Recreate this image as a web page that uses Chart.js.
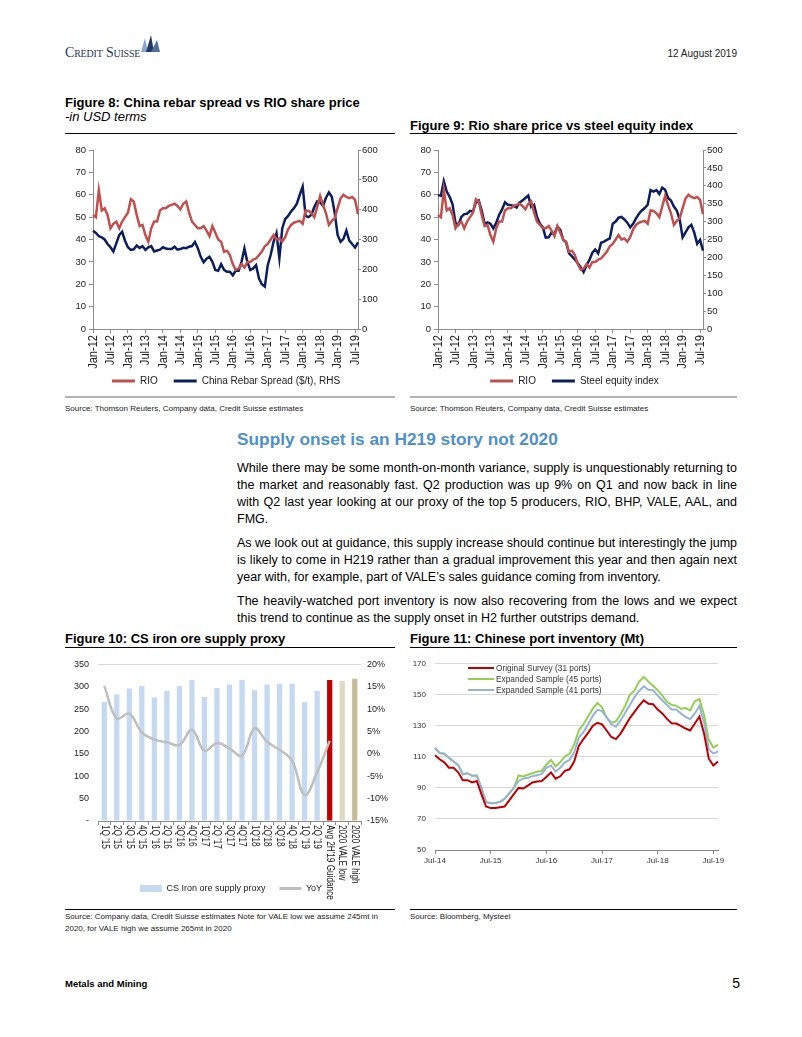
<!DOCTYPE html>
<html>
<head>
<meta charset="utf-8">
<script src="https://cdn.jsdelivr.net/npm/chart.js@4.4.1/dist/chart.umd.min.js"></script>
<style>
html, body { margin: 0; padding: 0; background: #fff; }
body { width: 802px; height: 1037px; position: relative; overflow: hidden; font-family: 'Liberation Sans', Arial, sans-serif; color: #000; }
.t { position: absolute; white-space: nowrap; }
.rule { position: absolute; height: 1px; background: #000; }
.grey { height: 2px; background: #b4b4b4; }
.cv { position: absolute; }
.body { position: absolute; left: 237px; width: 500px; font-size: 12.5px; line-height: 17px; white-space: nowrap; }
.j { text-align: justify; text-align-last: justify; white-space: normal; height: 17px; overflow: hidden; }
.src { font-size: 8px; line-height: 8px; color: #222; }
.ttl { font-size: 13px; line-height: 13px; font-weight: bold; }
.lg { position: absolute; font-size: 8.3px; line-height: 10px; color: #333; white-space: nowrap; }
.lg span { display: inline-block; width: 26px; height: 2px; vertical-align: middle; margin-right: 2px; position: relative; top: -1px; }
</style>
</head>
<body>

<!-- header -->
<div class="t" style="left:65px;top:46px;font-family:'Liberation Serif',serif;font-size:14px;line-height:14px;font-variant:small-caps;color:#1f3864;letter-spacing:-0.2px">Credit Suisse</div>
<svg style="position:absolute;left:138px;top:35px" width="22" height="18" viewBox="0 0 22 18">
  <polygon points="3,17 7,3 10,17" fill="#8aa6c8"/>
  <polygon points="8,17 13,0 16,17" fill="#1f3864"/>
  <polygon points="13,17 19,5 22,17" fill="#4f6f9f"/>
</svg>
<div class="t" style="right:65px;top:49px;font-size:10px;line-height:10px;color:#222">12 August 2019</div>

<!-- figure 8 / 9 titles -->
<div class="t ttl" style="left:65px;top:95.5px">Figure 8: China rebar spread vs RIO share price</div>
<div class="t" style="left:65px;top:110px;font-size:13px;line-height:13px;font-style:italic">-in USD terms</div>
<div class="rule" style="left:65px;top:133px;width:330px"></div>
<div class="t ttl" style="left:410px;top:119px">Figure 9: Rio share price vs steel equity index</div>
<div class="rule" style="left:410px;top:133px;width:327px"></div>

<div class="cv" style="left:62px;top:140px"><canvas id="fig8" width="328" height="256"></canvas></div>
<div class="cv" style="left:411px;top:140px"><canvas id="fig9" width="327" height="256"></canvas></div>

<div class="rule grey" style="left:65px;top:396px;width:330px"></div>
<div class="rule grey" style="left:410px;top:396px;width:327px"></div>
<div class="t src" style="left:65px;top:405px">Source: Thomson Reuters, Company data, Credit Suisse estimates</div>
<div class="t src" style="left:410px;top:405px">Source: Thomson Reuters, Company data, Credit Suisse estimates</div>

<!-- text section -->
<div class="t" style="left:237px;top:431px;font-size:17.3px;line-height:17.3px;font-weight:bold;color:#4f90c6">Supply onset is an H219 story not 2020</div>

<div class="body j" style="top:460px">While there may be some month-on-month variance, supply is unquestionably returning to</div>
<div class="body j" style="top:477px">the market and reasonably fast. Q2 production was up 9% on Q1 and now back in line</div>
<div class="body j" style="top:494px">with Q2 last year looking at our proxy of the top 5 producers, RIO, BHP, VALE, AAL, and</div>
<div class="body" style="top:511px">FMG.</div>

<div class="body j" style="top:535px">As we look out at guidance, this supply increase should continue but interestingly the jump</div>
<div class="body j" style="top:552px">is likely to come in H219 rather than a gradual improvement this year and then again next</div>
<div class="body" style="top:569px">year with, for example, part of VALE’s sales guidance coming from inventory.</div>

<div class="body j" style="top:593px">The heavily-watched port inventory is now also recovering from the lows and we expect</div>
<div class="body" style="top:610px">this trend to continue as the supply onset in H2 further outstrips demand.</div>

<!-- figure 10 / 11 -->
<div class="t ttl" style="left:65px;top:632px">Figure 10: CS iron ore supply proxy</div>
<div class="rule" style="left:65px;top:647px;width:330px"></div>
<div class="t ttl" style="left:410px;top:632px">Figure 11: Chinese port inventory (Mt)</div>
<div class="rule" style="left:410px;top:647px;width:327px"></div>

<div class="cv" style="left:62px;top:650px"><canvas id="fig10" width="338" height="253"></canvas></div>
<div class="cv" style="left:405px;top:650px"><canvas id="fig11" width="330" height="216"></canvas></div>

<div class="lg" style="left:468px;top:663px"><span style="background:#c00000"></span>Original Survey (31 ports)</div>
<div class="lg" style="left:468px;top:674px"><span style="background:#92d050"></span>Expanded Sample (45 ports)</div>
<div class="lg" style="left:468px;top:685px"><span style="background:#95b3d7"></span>Expanded Sample (41 ports)</div>

<div class="rule" style="left:65px;top:909px;width:330px"></div>
<div class="rule" style="left:410px;top:909px;width:327px"></div>
<div class="t src" style="left:65px;top:913px">Source: Company data, Credit Suisse estimates Note for VALE low we assume 245mt in</div>
<div class="t src" style="left:65px;top:925px">2020, for VALE high we assume 265mt in 2020</div>
<div class="t src" style="left:410px;top:913px">Source: Bloomberg, Mysteel</div>

<!-- footer -->
<div class="t" style="left:65px;top:979px;font-size:9.5px;line-height:9.5px;font-weight:bold">Metals and Mining</div>
<div class="t" style="right:62px;top:976px;font-size:14px;line-height:14px">5</div>

<script>
// ---- data: figures 8 and 9 (monthly, Jan-12 .. Aug-19) ----
const months = [
  'Jan-12','Feb-12','Mar-12','Apr-12','May-12','Jun-12','Jul-12','Aug-12','Sep-12','Oct-12','Nov-12','Dec-12',
  'Jan-13','Feb-13','Mar-13','Apr-13','May-13','Jun-13','Jul-13','Aug-13','Sep-13','Oct-13','Nov-13','Dec-13',
  'Jan-14','Feb-14','Mar-14','Apr-14','May-14','Jun-14','Jul-14','Aug-14','Sep-14','Oct-14','Nov-14','Dec-14',
  'Jan-15','Feb-15','Mar-15','Apr-15','May-15','Jun-15','Jul-15','Aug-15','Sep-15','Oct-15','Nov-15','Dec-15',
  'Jan-16','Feb-16','Mar-16','Apr-16','May-16','Jun-16','Jul-16','Aug-16','Sep-16','Oct-16','Nov-16','Dec-16',
  'Jan-17','Feb-17','Mar-17','Apr-17','May-17','Jun-17','Jul-17','Aug-17','Sep-17','Oct-17','Nov-17','Dec-17',
  'Jan-18','Feb-18','Mar-18','Apr-18','May-18','Jun-18','Jul-18','Aug-18','Sep-18','Oct-18','Nov-18','Dec-18',
  'Jan-19','Feb-19','Mar-19','Apr-19','May-19','Jun-19','Jul-19','Aug-19'
];

// RIO share price (LHS)
const rio = [
  51, 50, 62, 53, 54, 51, 45, 47, 48, 45, 48, 50,
  52, 58, 57, 51, 46, 46.5, 42, 39, 45, 48, 48, 53,
  54, 54, 55, 55.5, 56, 55, 53.5, 56, 57, 52, 48, 46.5,
  45, 45, 46, 44, 41.5, 46, 43, 40, 39, 34.5, 35, 33,
  29, 26.5, 27, 29, 27.5, 30, 30, 31, 31.5, 33, 34.6, 37,
  38, 40, 42, 40, 40.5, 39, 41, 44.5, 46.5, 47.5, 48, 48.3,
  47, 53, 52.8, 51.7, 50, 54.7, 59.5, 55.5, 51.7, 46.5, 48.3, 49.5,
  54, 58.3, 60, 59, 58.5, 59, 57.7, 51.3
];

// China rebar spread, $/t (RHS)
const rebarSpread = [
  329, 322, 311, 307, 300, 285, 274, 260, 287, 315, 326, 296,
  274, 265, 267, 280, 272, 278, 265, 274, 278, 260, 263, 266,
  274, 270, 268, 268, 276, 266, 268, 272, 271, 276, 278, 292,
  271, 242, 224, 236, 242, 225, 198, 195, 217, 198, 192, 192,
  180, 195, 195, 225, 270, 225, 198, 203, 214, 169, 150, 142,
  214, 248, 292, 321, 237, 338, 368, 379, 394, 405, 420, 450,
  477, 379, 375, 383, 409, 428, 424, 413, 440, 458, 443, 390,
  315, 292, 302, 330, 296, 285, 273, 290
];

// Steel equity index (RHS)
const steelIndex = [
  374, 372, 413, 384, 369, 348, 297, 291, 313, 321, 322, 330,
  328, 353, 359, 331, 294, 298, 294, 281, 297, 319, 334, 354,
  347, 346, 344, 339, 353, 359, 366, 373, 341, 347, 313, 294,
  284, 255, 256, 270, 266, 286, 277, 249, 242, 211, 203, 194,
  184, 172, 159, 178, 193, 213, 222, 211, 241, 244, 249, 253,
  294, 300, 311, 313, 306, 297, 284, 294, 309, 322, 331, 338,
  347, 388, 384, 388, 377, 395, 389, 366, 359, 342, 331, 306,
  256, 270, 284, 291, 269, 238, 249, 219
];

// ---- data: figure 10 ----
const supplyCats = ["1Q '15", "2Q '15", "3Q '15", "4Q '15", "1Q '16", "2Q '16", "3Q'16", "4Q'16",
  "1Q'17", "2Q '17", "3Q'17", "4Q'17", "1Q'18", "2Q'18", "3Q'18", "4Q '18", "1Q '19", "2Q '19",
  "Avg 2H'19 Guidance", "2020 VALE low", "2020 VALE high"];
const supplyProxy = [266, 283, 296, 302, 276, 291, 302, 315, 277, 297, 305, 315, 292, 305, 307, 307, 266, 291, 315, 313, 318];
const supplyYoY = [15.2, 7.9, 9.0, 4.8, 3.2, 2.6, 2.0, 5.4, 0.7, 2.4, 1.2, -0.4, 5.7, 2.7, 0.9, -1.5, -9.2, -4.1, 2.9, null, null];
const supplyColors = ['#c5d9f1', '#c5d9f1', '#c5d9f1', '#c5d9f1', '#c5d9f1', '#c5d9f1', '#c5d9f1', '#c5d9f1',
  '#c5d9f1', '#c5d9f1', '#c5d9f1', '#c5d9f1', '#c5d9f1', '#c5d9f1', '#c5d9f1', '#c5d9f1', '#c5d9f1', '#c5d9f1',
  '#c00000', '#ddd9c3', '#c4bd97'];

// ---- data: figure 11 (monthly, Jul-14 .. Aug-19) ----
const portMonths = [
  'Jul-14','Aug-14','Sep-14','Oct-14','Nov-14','Dec-14','Jan-15','Feb-15','Mar-15','Apr-15','May-15','Jun-15',
  'Jul-15','Aug-15','Sep-15','Oct-15','Nov-15','Dec-15','Jan-16','Feb-16','Mar-16','Apr-16','May-16','Jun-16',
  'Jul-16','Aug-16','Sep-16','Oct-16','Nov-16','Dec-16','Jan-17','Feb-17','Mar-17','Apr-17','May-17','Jun-17',
  'Jul-17','Aug-17','Sep-17','Oct-17','Nov-17','Dec-17','Jan-18','Feb-18','Mar-18','Apr-18','May-18','Jun-18',
  'Jul-18','Aug-18','Sep-18','Oct-18','Nov-18','Dec-18','Jan-19','Feb-19','Mar-19','Apr-19','May-19','Jun-19',
  'Jul-19','Aug-19'
];
const portOriginal31 = [
  111, 108.5, 106.5, 103, 103, 100.1, 95, 95, 93.5, 94.5, 86, 78,
  77, 77, 77.5, 78, 82, 86, 90, 89.6, 91.5, 93.5, 94.2, 94.5,
  97, 100, 96, 97.5, 101, 102, 107, 117, 121.5, 125.5, 130, 132,
  131, 127, 122.8, 121.5, 125, 130, 135, 139, 143, 146.5, 144.3, 144,
  140.5, 138, 134.5, 131.7, 131.5, 130, 128.3, 127, 131.5, 136, 125, 109,
  104.5, 107
];
const portExpanded45 = [
  115.7, 112.5, 112, 109.5, 107, 104.7, 98.8, 99.5, 97.8, 98, 90, 81,
  80.2, 80.3, 81, 83, 86.5, 90, 98, 97.4, 98.5, 99.5, 100.5, 101,
  105, 108, 104, 106.5, 110.3, 112, 118, 127, 131, 136, 141, 144.7,
  142, 135.3, 132, 132.9, 137.5, 143, 150, 152.8, 158.5, 161.5, 158.5, 155.8,
  153, 149.5, 145.5, 143.5, 143, 141, 141.5, 140.1, 145.8, 147.2, 137, 121,
  116, 118
];
const portExpanded41 = [
  115.7, 112.5, 112, 109.5, 107, 104.7, 98.8, 99.5, 97.8, 98, 90, 81,
  80.2, 80.3, 81, 83, 86.5, 90, 94.5, 96, 96.5, 97.5, 98.2, 99,
  103, 104.5, 100.5, 103, 106.5, 108, 113, 122.5, 126, 131, 136.5, 140.3,
  139.5, 135.5, 131, 129.5, 133.5, 138.5, 143.5, 148.5, 152.5, 155.5, 153.2, 153,
  149.5, 146.5, 143.5, 140.5, 140.5, 138, 135.8, 134.3, 138, 142.8, 132, 115,
  112.1, 113.6
];

// ---- shared styling ----
const FONT = "'Liberation Sans', Arial, sans-serif";
const AXIS = '#8c8c8c';
const RED = '#c0504d';
const NAVY = '#0b1f5e';
Chart.defaults.animation = false;
Chart.defaults.font.family = FONT;
Chart.defaults.color = '#222';

// x labels drawn by hand so they can run past the axis box and be squeezed
// like the narrow font of the original (down = read top-to-bottom)
function verticalLabels(labels, every, size, squeeze, gap, down) {
  return {
    id: 'verticalLabels',
    afterDraw(chart) {
      const xs = chart.scales.x;
      const ctx = chart.ctx;
      ctx.save();
      ctx.font = size + 'px ' + FONT;
      ctx.fillStyle = '#222';
      ctx.textBaseline = 'middle';
      ctx.textAlign = down ? 'left' : 'right';
      labels.forEach((lab, i) => {
        if (i % every) return;
        ctx.save();
        ctx.translate(xs.getPixelForTick(i), xs.top + gap);
        ctx.rotate(down ? Math.PI / 2 : -Math.PI / 2);
        ctx.scale(squeeze, 1);
        ctx.fillText(lab, 0, 0);
        ctx.restore();
      });
      ctx.restore();
    }
  };
}

function lineSet(label, data, color, axis) {
  return {
    label, data, yAxisID: axis,
    borderColor: color, backgroundColor: color,
    borderWidth: 2.5, pointRadius: 0, tension: 0,
    pointStyle: 'line', pointBorderColor: color, pointBorderWidth: 3
  };
}

function dualAxisChart(id, rightLabel, rightData, rightMax, rightStep, leftW, rightW) {
  return new Chart(document.getElementById(id), {
    type: 'line',
    data: {
      labels: months,
      datasets: [
        lineSet('RIO', rio, RED, 'y'),
        lineSet(rightLabel, rightData, NAVY, 'y1')
      ]
    },
    options: {
      responsive: false,
      layout: { padding: { top: 10, left: 0, right: 0, bottom: 0 } },
      plugins: {
        tooltip: { enabled: false },
        legend: {
          position: 'bottom',
          labels: { usePointStyle: true, pointStyleWidth: 23, padding: 16, font: { size: 10 }, color: '#222' }
        }
      },
      scales: {
        x: {
          offset: false,
          border: { color: AXIS },
          grid: {
            drawOnChartArea: false, tickLength: 4,
            color: c => (c.index % 6 === 0 ? AXIS : 'transparent')
          },
          ticks: { display: false, autoSkip: false },
          afterFit: s => { s.height = 31; }
        },
        y: {
          position: 'left', min: 0, max: 80,
          border: { color: AXIS },
          grid: { drawOnChartArea: false, tickLength: 4, color: AXIS },
          ticks: { stepSize: 10, padding: 3, font: { size: 9.5 } },
          afterFit: s => { s.width = leftW; }
        },
        y1: {
          position: 'right', min: 0, max: rightMax,
          border: { color: AXIS },
          grid: { drawOnChartArea: false, tickLength: 3, color: AXIS },
          ticks: { stepSize: rightStep, padding: 1, font: { size: 9.5 } },
          afterFit: s => { s.width = rightW; }
        }
      }
    },
    plugins: [verticalLabels(months, 6, 13.5, 0.82, 6, false)]
  });
}

dualAxisChart('fig8', 'China Rebar Spread ($/t), RHS', rebarSpread, 600, 100, 31, 32);
dualAxisChart('fig9', 'Steel equity index', steelIndex, 500, 50, 27, 35);

// ---- figure 10: bars + smoothed YoY line ----
new Chart(document.getElementById('fig10'), {
  type: 'bar',
  data: {
    labels: supplyCats,
    datasets: [
      {
        type: 'line', label: 'YoY', data: supplyYoY, yAxisID: 'y1', order: 0,
        borderColor: '#bfbfbf', backgroundColor: '#bfbfbf', borderWidth: 2.5,
        pointRadius: 0, tension: 0.4, pointStyle: 'line',
        pointBorderColor: '#bfbfbf', pointBorderWidth: 3
      },
      {
        label: 'CS Iron ore supply proxy', data: supplyProxy, yAxisID: 'y', order: 1,
        backgroundColor: supplyColors, borderWidth: 0,
        barPercentage: 0.42, categoryPercentage: 1, pointStyle: 'rect'
      }
    ]
  },
  options: {
    responsive: false,
    layout: { padding: { top: 12, left: 0, right: 0, bottom: 0 } },
    plugins: {
      tooltip: { enabled: false },
      legend: {
        position: 'bottom', reverse: true,
        labels: { usePointStyle: true, pointStyleWidth: 22, boxHeight: 7, padding: 14, font: { size: 9 }, color: '#222' }
      }
    },
    scales: {
      x: {
        border: { color: AXIS },
        grid: { offset: true, drawOnChartArea: false, tickLength: 4, color: AXIS },
        ticks: { display: false },
        afterFit: s => { s.height = 49; }
      },
      y: {
        position: 'left', min: 0, max: 350,
        border: { display: false },
        grid: { drawTicks: false, color: c => (c.tick.value === 350 ? '#d9d9d9' : 'transparent') },
        ticks: { stepSize: 50, padding: 9, font: { size: 9 }, callback: v => (v === 0 ? '-' : v) },
        afterFit: s => { s.width = 36; }
      },
      y1: {
        position: 'right', min: -15, max: 20,
        border: { display: false },
        grid: { drawOnChartArea: false, drawTicks: false },
        ticks: { stepSize: 5, padding: 6, font: { size: 9 }, callback: v => v + '%' },
        afterFit: s => { s.width = 39; }
      }
    }
  },
  plugins: [verticalLabels(supplyCats, 1, 10, 0.82, 4, true)]
});

// ---- figure 11: port inventory ----
new Chart(document.getElementById('fig11'), {
  type: 'line',
  data: {
    labels: portMonths,
    datasets: [
      { label: 'Original Survey (31 ports)', data: portOriginal31, borderColor: '#c00000', order: 1 },
      { label: 'Expanded Sample (45 ports)', data: portExpanded45, borderColor: '#92d050', order: 3 },
      { label: 'Expanded Sample (41 ports)', data: portExpanded41, borderColor: '#95b3d7', order: 2 }
    ].map(d => Object.assign(d, { borderWidth: 2, pointRadius: 0, tension: 0 }))
  },
  options: {
    responsive: false,
    layout: { padding: { top: 10, left: 0, right: 17, bottom: 0 } },
    plugins: { tooltip: { enabled: false }, legend: { display: false } },
    scales: {
      x: {
        offset: false,
        border: { color: '#888' },
        grid: { drawOnChartArea: false, tickLength: 4, color: c => (c.index % 12 === 0 ? '#888' : 'transparent') },
        ticks: {
          autoSkip: false, maxRotation: 0, padding: 2,
          font: { size: 8 }, color: '#333',
          callback: (v, i) => (i % 12 === 0 ? portMonths[i] : '')
        },
        afterFit: s => { s.height = 16; }
      },
      y: {
        min: 50, max: 170,
        border: { display: false },
        grid: { drawTicks: false, color: c => (c.tick.value === 50 ? 'transparent' : '#d9d9d9') },
        ticks: { stepSize: 20, padding: 9, font: { size: 8 }, color: '#333' },
        afterFit: s => { s.width = 30; }
      }
    }
  }
});
</script>
</body>
</html>
